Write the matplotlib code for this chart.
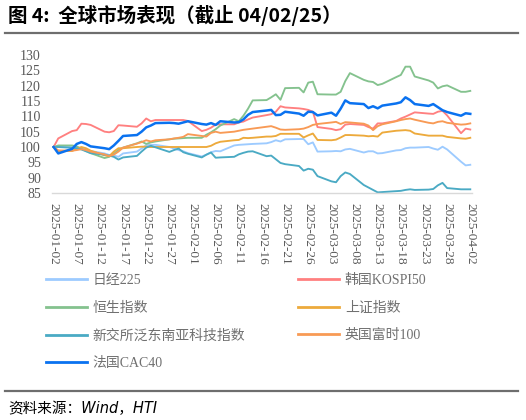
import matplotlib
matplotlib.use("Agg")
import matplotlib.pyplot as plt
import matplotlib.dates as mdates
from matplotlib.lines import Line2D
import pandas as pd

# trading days, 2025-01-02 .. 2025-04-02
dates = pd.bdate_range("2025-01-02", "2025-04-02")

nikkei = [100, 100.0,
          99.8, 99.6, 99.5, 99.2, 98.7,
          97.9, 97.4, 97.2, 96.8, 97.9,
          98.5, 99.5, 100.6, 100.7, 100.7,
          100.0, 99.5, 99.0, 98.6, 98.0,
          96.9, 97.5, 98.3, 98.7, 98.6,
          100.5, 100.7, 100.8, 100.9, 101.0,
          101.2, 101.6, 102.2, 101.8, 102.5,
          102.6, 102.6, 100.9, 101.5, 98.5,
          98.6, 98.7, 98.6, 99.2, 99.4,
          98.2, 98.6, 98.6, 97.9, 98.0,
          98.9, 99.0, 99.6, 99.8, 99.8,
          100.0, 99.5, 99.1, 100.1, 99.2,
          95.2, 94.0, 94.2]
kospi = [100, 102.8,
         105.2, 105.5, 107.6, 107.5, 107.2,
         105.0, 104.8, 105.2, 107.1, 107.0,
         106.6, 107.7, 109.3, 108.4, 108.8,
         108.8, 108.8, 108.8, 108.8, 108.5,
         105.2, 105.6, 106.3, 107.3, 107.4,
         107.4, 108.0, 108.3, 109.0, 109.6,
         110.4, 110.7, 111.5, 113.3, 112.9,
         112.6, 112.4, 112.1, 111.5, 106.5,
         105.9, 105.5, 105.8, 107.3, 107.5,
         107.2, 106.5, 106.0, 107.7, 107.7,
         108.5, 109.3, 109.9, 110.6, 111.3,
         110.9, 110.8, 111.5, 111.8, 110.3,
         104.5, 106.0, 105.7]
hsi = [100, 100.5,
       100.5, 100.2, 99.4, 98.7, 98.0,
       96.4, 96.8, 97.8, 99.0, 99.8,
       101.2, 101.8, 101.0, 101.5, 101.8,
       102.5, 102.7, 102.8, 102.9, 103.0,
       103.0, 104.0, 104.8, 105.8, 107.0,
       109.1, 108.4, 110.2, 112.5, 115.2,
       115.3, 116.2, 117.2, 115.4, 119.2,
       119.3, 117.8, 121.0, 121.3, 117.2,
       117.1, 117.1, 118.0, 121.5, 124.1,
       121.9, 121.4, 121.2, 120.2, 120.6,
       122.8, 123.5, 126.2, 126.2, 123.0,
       121.7, 121.0, 119.1, 119.8, 120.1,
       118.0, 118.0, 118.3]
shcomp = [100, 98.7,
          98.7, 99.4, 100.0, 99.6, 98.8,
          97.3, 97.0, 98.5, 99.6, 99.6,
          100.0, 100.1, 100.1, 100.0, 100.0,
          100.0, 100.0, 100.0, 100.0, 100.0,
          100.0, 100.0, 100.4, 101.2, 101.7,
          102.2, 102.3, 103.0, 102.9, 103.0,
          103.4, 103.4, 103.6, 104.3, 104.3,
          104.3, 103.1, 103.8, 104.4, 102.3,
          102.2, 102.4, 103.1, 103.9, 103.9,
          103.7, 103.5, 103.6, 103.4, 104.7,
          105.3, 105.4, 105.5, 105.3, 104.4,
          103.7, 103.7, 103.7, 103.7, 103.3,
          102.8, 102.7, 103.0]
sgx_tech = [100, 100.0,
            99.8, 99.6, 99.2, 98.6, 98.0,
            97.5, 97.2, 96.8, 95.9, 96.6,
            97.1, 98.5, 99.8, 100.4, 99.9,
            98.4, 99.0, 99.5, 98.3, 97.8,
            96.6, 97.5, 98.2, 96.5, 96.6,
            96.8, 97.6, 98.1, 98.5, 98.6,
            97.0, 97.2, 96.0, 94.8, 94.4,
            93.8, 92.3, 92.9, 92.6, 90.5,
            88.8, 88.5, 90.5, 91.7, 91.2,
            87.6, 86.8, 86.0, 85.2, 85.3,
            85.6, 85.7, 86.0, 86.2, 86.0,
            86.1, 86.3, 87.5, 88.3, 86.6,
            86.2, 86.2, 86.2]
ftse = [100, 98.9,
        98.8, 99.0, 99.3, 99.0, 98.5,
        97.6, 97.0, 97.5, 98.5, 99.8,
        101.1, 101.6, 102.2, 101.8, 102.2,
        102.5, 102.8, 103.0, 103.3, 104.2,
        103.6, 103.4, 104.6, 105.0, 104.6,
        105.0, 105.3, 105.6, 105.8, 106.0,
        106.6, 106.8, 106.3, 105.7, 105.6,
        105.8, 106.0, 106.5, 107.2, 107.5,
        108.0, 108.2, 107.5, 108.1, 108.0,
        107.6, 107.0, 105.5, 106.8, 107.4,
        108.4, 108.8, 109.1, 109.3, 108.9,
        107.9, 107.7, 108.2, 108.4, 107.9,
        107.3, 107.4, 107.7]
cac40 = [100, 97.9,
         99.4, 101.0, 101.6, 101.0, 100.2,
         99.6, 99.3, 100.5, 102.0, 103.6,
         103.9, 105.0, 106.4, 107.0, 107.8,
         107.9, 107.8, 107.6, 108.0, 108.4,
         107.5, 107.3, 107.8, 107.2, 108.4,
         108.0, 108.1, 109.0, 110.5, 111.4,
         111.9, 112.1, 110.4, 110.5, 111.5,
         110.9, 110.2, 111.5, 111.4, 110.3,
         111.2, 110.2, 112.5, 115.2, 114.3,
         114.0, 112.7, 113.3, 112.6, 113.5,
         114.2, 114.6, 116.2, 115.3, 114.0,
         113.4, 114.0, 113.0, 112.0, 111.4,
         110.2, 111.0, 110.8]

names = ["日经225", "韩国KOSPI50", "恒生指数", "上证指数",
         "新交所泛东南亚科技指数", "英国富时100", "法国CAC40"]
series = [nikkei, kospi, hsi, shcomp, sgx_tech, ftse, cac40]
colors = ["#9DCBFF", "#FF8080", "#84C28E", "#EDAA3C",
          "#4AAAC4", "#F89A55", "#0A72F0"]
widths = [1.35, 1.35, 1.35, 1.35, 1.35, 1.35, 1.8]

yticks = list(range(85, 131, 5))
xticks = pd.date_range("2025-01-02", "2025-04-02", freq="5D")

serif = ["Liberation Serif", "Noto Sans CJK SC"]
grey = "#595959"

fig = plt.figure(figsize=(5.26, 4.2), dpi=100)
ax = fig.add_axes([0.099, 0.5405, 0.798, 0.3285])

for vals, c, lw in zip(series, colors, widths):
    ax.plot(dates, vals, color=c, lw=lw, solid_joinstyle="round")

ax.set_ylim(85, 130)
ax.set_yticks(yticks)
ax.set_xlim(pd.Timestamp("2025-01-02") - pd.Timedelta(hours=8),
            pd.Timestamp("2025-04-02") + pd.Timedelta(hours=8))
ax.set_xticks(xticks)
ax.xaxis.set_major_formatter(mdates.DateFormatter("%Y-%m-%d"))
for s in ["top", "right", "left"]:
    ax.spines[s].set_visible(False)
ax.spines["bottom"].set_color("#D9D9D9")
ax.spines["bottom"].set_linewidth(1.0)
ax.tick_params(axis="both", length=0, colors=grey)
ax.tick_params(axis="y", pad=8)
ax.tick_params(axis="x", pad=7)
for lab in ax.get_yticklabels():
    lab.set_fontfamily(serif)
    lab.set_fontsize(10)
for lab in ax.get_xticklabels():
    lab.set_fontfamily(serif)
    lab.set_fontsize(9.5)
    lab.set_rotation(-90)
    lab.set_ha("center")
    lab.set_va("top")

# legend in two columns
handles = [Line2D([], [], color=c, lw=2.0) for c in colors]
leg_kw = dict(frameon=False, handlelength=2.9, handletextpad=0.45,
              labelspacing=1.05, labelcolor="#707070",
              prop={"family": serif, "size": 10}, borderaxespad=0, borderpad=0)
fig.legend(handles[0::2], names[0::2], loc="upper left",
           bbox_to_anchor=(0.088, 0.348), **leg_kw)
fig.legend(handles[1::2], names[1::2], loc="upper left",
           bbox_to_anchor=(0.567, 0.348), **leg_kw)

# title and rules
fig.text(0.015, 0.962, "图 4:  全球市场表现（截止 04/02/25）", fontsize=14,
         fontweight="bold", family=["Noto Sans CJK SC", "DejaVu Sans"],
         ha="left", va="center", color="black")
fig.add_artist(Line2D([0.01, 0.985], [0.921, 0.921], color="#6E6E6E", lw=1.6))
fig.add_artist(Line2D([0.01, 0.985], [0.069, 0.069], color="#6E6E6E", lw=1.6))
fig.text(0.015, 0.028, "资料来源：Wind，HTI", fontsize=10.5, style="italic",
         family=["DejaVu Sans", "Noto Sans CJK SC"], ha="left", va="center",
         color="black")

fig.savefig("out.png", dpi=100)
